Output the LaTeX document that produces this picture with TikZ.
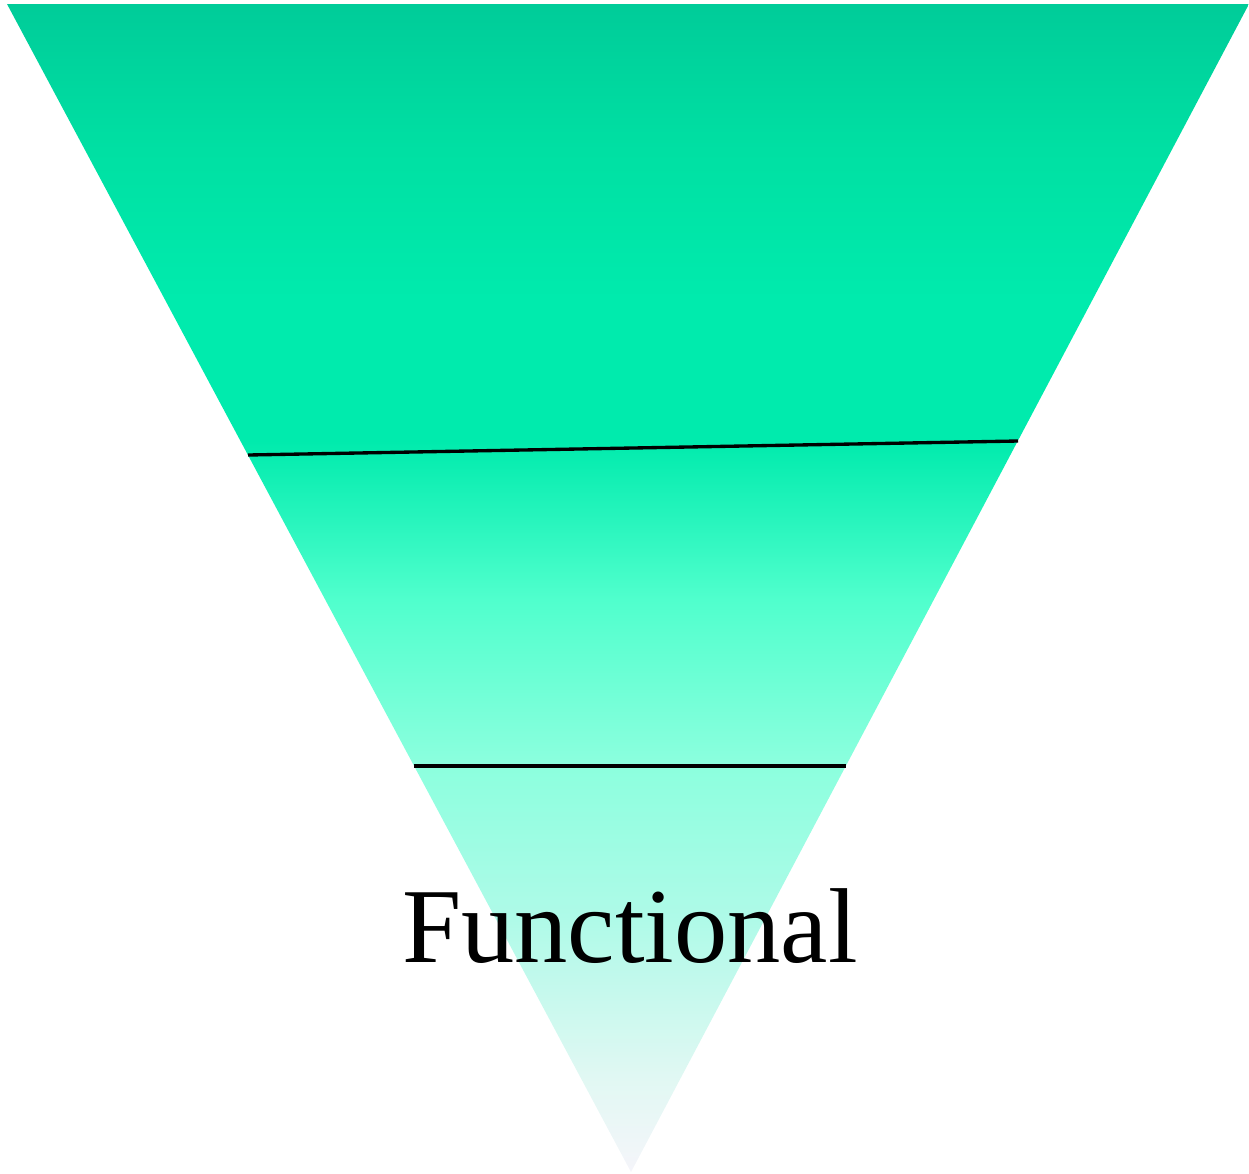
\documentclass[tikz,border=0pt]{standalone}
\usepackage{fontspec}
\setmainfont{Liberation Serif}
\definecolor{c0}{RGB}{0,204,153}
\definecolor{c1}{RGB}{0,224,163}
\definecolor{c2}{RGB}{0,235,173}
\definecolor{c3}{RGB}{0,235,173}
\definecolor{c4}{RGB}{80,255,205}
\definecolor{c5}{RGB}{140,255,222}
\definecolor{c6}{RGB}{175,250,232}
\definecolor{c7}{RGB}{225,248,243}
\definecolor{c8}{RGB}{245,245,250}
\pgfdeclareverticalshading{funnelshade}{100bp}{color(0bp)=(c8); color(25bp)=(c8); color(29bp)=(c7); color(35.8bp)=(c6); color(42.4bp)=(c5); color(49.5bp)=(c4); color(56.3bp)=(c3); color(62.3bp)=(c2); color(68.75bp)=(c1); color(75bp)=(c0); color(100bp)=(c0)}
\tikzset{
  divider/.style={draw=black, line width=1.9pt},
  label/.style={font=\fontsize{60.6}{72}\selectfont, text=black, inner sep=0pt}
}
\begin{document}
\begin{tikzpicture}[x=0.02cm, y=-0.02cm]
\useasboundingbox (0,0) rectangle (1249,1174);
\coordinate (tl) at (7,4);
\coordinate (tr) at (1249,4);
\coordinate (ap) at (631,1172);
\shade[shading=funnelshade] (tl) -- (tr) -- (ap) -- cycle;
\coordinate (l1a) at (248,455);
\coordinate (l1b) at (1018,441);
\coordinate (l2a) at (414,766);
\coordinate (l2b) at (846,766);
\draw[divider] (l1a) -- (l1b);
\draw[divider] (l2a) -- (l2b);
\node[label, anchor=base] (func) at (630,962) {Functional};
\end{tikzpicture}
\end{document}
